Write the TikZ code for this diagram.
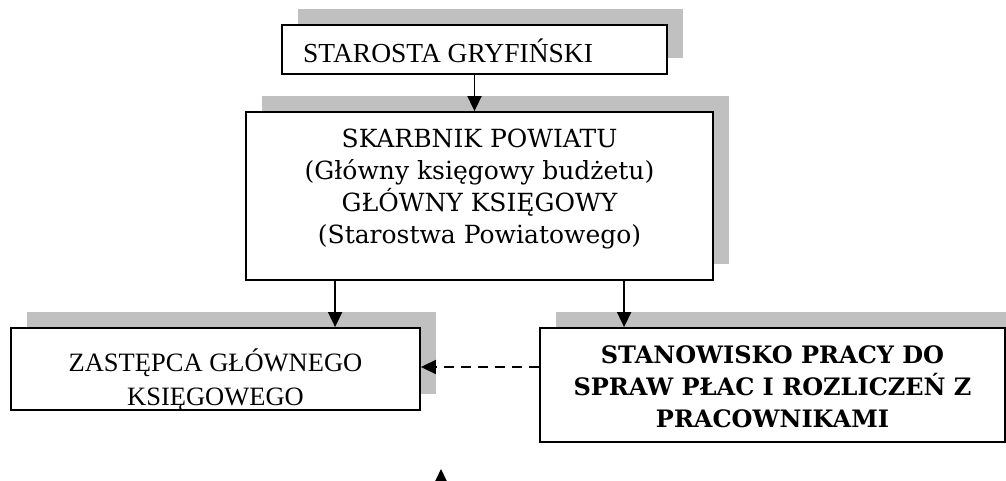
\documentclass[tikz,border=0pt]{standalone}
\usepackage{fontspec}
\setmainfont{Liberation Serif}
\newfontfamily\bkfont{DejaVu Serif}
\usetikzlibrary{arrows.meta,shadows}
\definecolor{shadowc}{RGB}{192,192,192}
\newcommand\stackc[1]{\begin{tabular}[t]{@{}c@{}}#1\end{tabular}}
\begin{document}
\begin{tikzpicture}[x=1pt,y=-1pt,
  box/.style={draw, line width=1.8pt, fill=white, inner sep=0pt,
    drop shadow={shadow xshift=16pt, shadow yshift=16pt, fill=shadowc, opacity=1, draw=none}},
  txt/.style={inner sep=0pt},
  conn/.style={line width=1.8pt, -{Triangle[width=14pt,length=15pt]}},
  dconn/.style={conn, dash pattern=on 10pt off 7pt}]
\useasboundingbox (0,0) rectangle (1006,481);
\clip (0,0) rectangle (1006,481);

\node[box, minimum width=385pt, minimum height=49pt] (b1) at (474.5,49.5) {};
\node[txt, anchor=base west] (t1) at (303,63) {\fontsize{27.5}{34}\selectfont STAROSTA GRYFIŃSKI};

\node[box, minimum width=467pt, minimum height=168pt] (b2) at (479.5,196) {};
\node[txt, anchor=base] (t2) at (479.5,148) {\bkfont\fontsize{25}{31.3}\selectfont\stackc{SKARBNIK POWIATU\\(Główny księgowy budżetu)\\GŁÓWNY KSIĘGOWY\\(Starostwa Powiatowego)}};

\node[box, minimum width=409pt, minimum height=82pt] (b3) at (215.5,369) {};
\node[txt, anchor=base] (t3) at (215.5,371) {\fontsize{26.5}{34}\selectfont\stackc{ZASTĘPCA GŁÓWNEGO\\KSIĘGOWEGO}};

\node[box, minimum width=465pt, minimum height=114pt] (b4) at (772.5,385) {};
\node[txt, anchor=base] (t4) at (772.5,363) {\bkfont\bfseries\fontsize{24}{32}\selectfont\stackc{STANOWISKO PRACY DO\\SPRAW PŁAC I ROZLICZEŃ Z\\PRACOWNIKAMI}};

\draw[conn] (b1.south) -- (b1.south |- b2.north);
\draw[conn] ([xshift=90pt]b2.south west) -- ([xshift=90pt]b2.south west |- b3.north);
\draw[conn] ([xshift=85pt]b4.north west |- b2.south) -- ([xshift=85pt]b4.north west);
\draw[dconn] ([yshift=18pt]b4.west) -- ([yshift=18pt]b4.west -| b3.east);

\coordinate (stubend) at (441,500);
\coordinate (stubtip) at (441,469);
\draw[conn] (stubend) -- (stubtip);
\end{tikzpicture}
\end{document}
